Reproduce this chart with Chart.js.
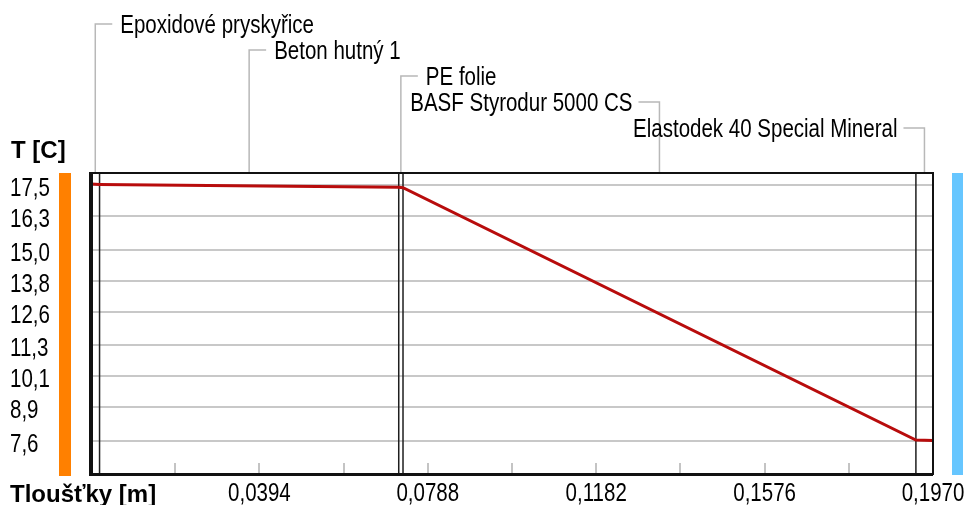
<!DOCTYPE html>
<html>
<head>
<meta charset="utf-8">
<title>Průběh teploty v konstrukci</title>
<script src="https://cdn.jsdelivr.net/npm/chart.js@4.4.1/dist/chart.umd.min.js"></script>
<style>
  html, body { margin: 0; padding: 0; background: #fff; }
  canvas { display: block; }
</style>
</head>
<body>
<canvas id="graf" width="969" height="505"></canvas>
<script>
// vrstvy konstrukce od interiéru k exteriéru
const vrstvy = ['Epoxidové pryskyřice', 'Beton hutný 1', 'PE folie', 'BASF Styrodur 5000 CS', 'Elastodek 40 Special Mineral'];
const rozhrani = [0, 0.002, 0.072, 0.073, 0.193, 0.197]; // hranice vrstev [m]

// průběh teploty
const polohy = [0, 0.002, 0.072, 0.073, 0.193, 0.197];
const teploty = [17.53, 17.52, 17.41, 17.39, 7.63, 7.62];

// osy
const yTicky = [7.6, 8.9, 10.1, 11.3, 12.6, 13.8, 15.0, 16.3, 17.5];
const xZnacky = [0.0197, 0.0394, 0.0591, 0.0788, 0.0985, 0.1182, 0.1379, 0.1576, 0.1773, 0.1970];
const xPopisky = [0.0394, 0.0788, 0.1182, 0.1576, 0.1970];

const PISMO = '25px "Liberation Sans", Arial, sans-serif';
const carka = (v, d) => v.toFixed(d).replace('.', ',');

// úzké písmo - běžné písmo stažené vodorovně
function uzkyText(ctx, text, x, y, zarovnani) {
    ctx.save();
    ctx.translate(x, y);
    ctx.scale(0.82, 1);
    ctx.font = PISMO;
    ctx.fillStyle = '#000';
    ctx.textAlign = zarovnani;
    ctx.textBaseline = 'alphabetic';
    ctx.fillText(text, 0, 0);
    ctx.restore();
}

const kresleni = {
    id: 'kresleni',
    beforeDraw(chart) {
        const { ctx, chartArea: a } = chart;
        ctx.save();
        // pruhy interiér / exteriér
        ctx.fillStyle = '#ff8000';
        ctx.fillRect(59, a.top, 12, a.bottom - a.top + 2);
        ctx.fillStyle = '#66c6ff';
        ctx.fillRect(952, a.top, 11, a.bottom - a.top + 1);
        ctx.restore();
    },
    beforeDatasetsDraw(chart) {
        const { ctx, chartArea: a, scales: { x } } = chart;
        ctx.save();
        // značky na ose x uvnitř grafu
        ctx.strokeStyle = '#c4c4c4';
        ctx.lineWidth = 2;
        x.ticks.filter(t => t.value < x.max).forEach(t => {
            const px = Math.round(x.getPixelForValue(t.value));
            ctx.beginPath();
            ctx.moveTo(px, a.bottom - 11);
            ctx.lineTo(px, a.bottom);
            ctx.stroke();
        });
        // hranice vrstev
        ctx.strokeStyle = '#1e1e1e';
        ctx.lineWidth = 1.5;
        rozhrani.slice(1, -1).forEach(v => {
            const px = x.getPixelForValue(v);
            ctx.beginPath();
            ctx.moveTo(px, a.top);
            ctx.lineTo(px, a.bottom);
            ctx.stroke();
        });
        ctx.restore();
    },
    afterDraw(chart) {
        const { ctx, chartArea: a, scales: { x, y } } = chart;
        ctx.save();
        // rámeček
        ctx.fillStyle = '#111';
        ctx.fillRect(a.left - 2, a.top - 1, a.right - a.left + 2, 2);
        ctx.fillRect(a.left - 2, a.top - 1, 4, a.bottom - a.top + 3);
        ctx.fillRect(a.left - 2, a.bottom - 1, a.right - a.left + 2, 3);
        ctx.fillRect(a.right - 1, a.top - 1, 2, a.bottom - a.top + 2);

        // popisky os
        y.ticks.forEach(t => uzkyText(ctx, carka(t.value, 1), 10, y.getPixelForValue(t.value) + 11, 'left'));
        x.ticks.filter(t => xPopisky.includes(t.value))
            .forEach(t => uzkyText(ctx, carka(t.value, 4), x.getPixelForValue(t.value), 501, 'center'));

        // názvy vrstev s odkazovými čarami
        ctx.strokeStyle = '#b8b8b8';
        ctx.lineWidth = 1.5;
        vrstvy.forEach((nazev, i) => {
            const stred = x.getPixelForValue((rozhrani[i] + rozhrani[i + 1]) / 2);
            const ry = 24 + i * 26;
            const vlevo = stred > chart.width / 2;
            const konec = vlevo ? stred - 21 : stred + 17;
            ctx.beginPath();
            ctx.moveTo(konec, ry);
            ctx.lineTo(stred, ry);
            ctx.lineTo(stred, a.top - 1);
            ctx.stroke();
            uzkyText(ctx, nazev, vlevo ? konec - 6 : konec + 8, ry + 9, vlevo ? 'right' : 'left');
        });

        // nadpisy os
        ctx.font = 'bold 24px "Liberation Sans", Arial, sans-serif';
        ctx.fillStyle = '#000';
        ctx.textAlign = 'left';
        ctx.fillText('T [C]', 11, 158);
        ctx.fillText('Tloušťky [m]', 10, 502);
        ctx.restore();
    }
};

new Chart(document.getElementById('graf'), {
    type: 'line',
    data: {
        datasets: [{
            data: polohy.map((p, i) => ({ x: p, y: teploty[i] })),
            borderColor: '#b80c0c',
            borderWidth: 3,
            pointRadius: 0,
            tension: 0,
            fill: false
        }]
    },
    options: {
        responsive: false,
        animation: false,
        layout: { padding: { left: 10, top: 173, right: 36, bottom: 0 } },
        plugins: {
            legend: { display: false },
            tooltip: { enabled: false }
        },
        scales: {
            x: {
                type: 'linear',
                min: 0,
                max: 0.197,
                afterBuildTicks: axis => { axis.ticks = xZnacky.map(v => ({ value: v })); },
                afterFit: axis => { axis.height = 31; },
                grid: { display: false, drawTicks: false },
                border: { display: false },
                ticks: { display: false }
            },
            y: {
                min: 6.32,
                max: 17.96,
                afterBuildTicks: axis => { axis.ticks = yTicky.map(v => ({ value: v })); },
                afterFit: axis => { axis.width = 81; },
                grid: { color: '#c8c8c8', lineWidth: 2, drawTicks: false },
                border: { display: false },
                ticks: { display: false }
            }
        }
    },
    plugins: [kresleni]
});
</script>
</body>
</html>
